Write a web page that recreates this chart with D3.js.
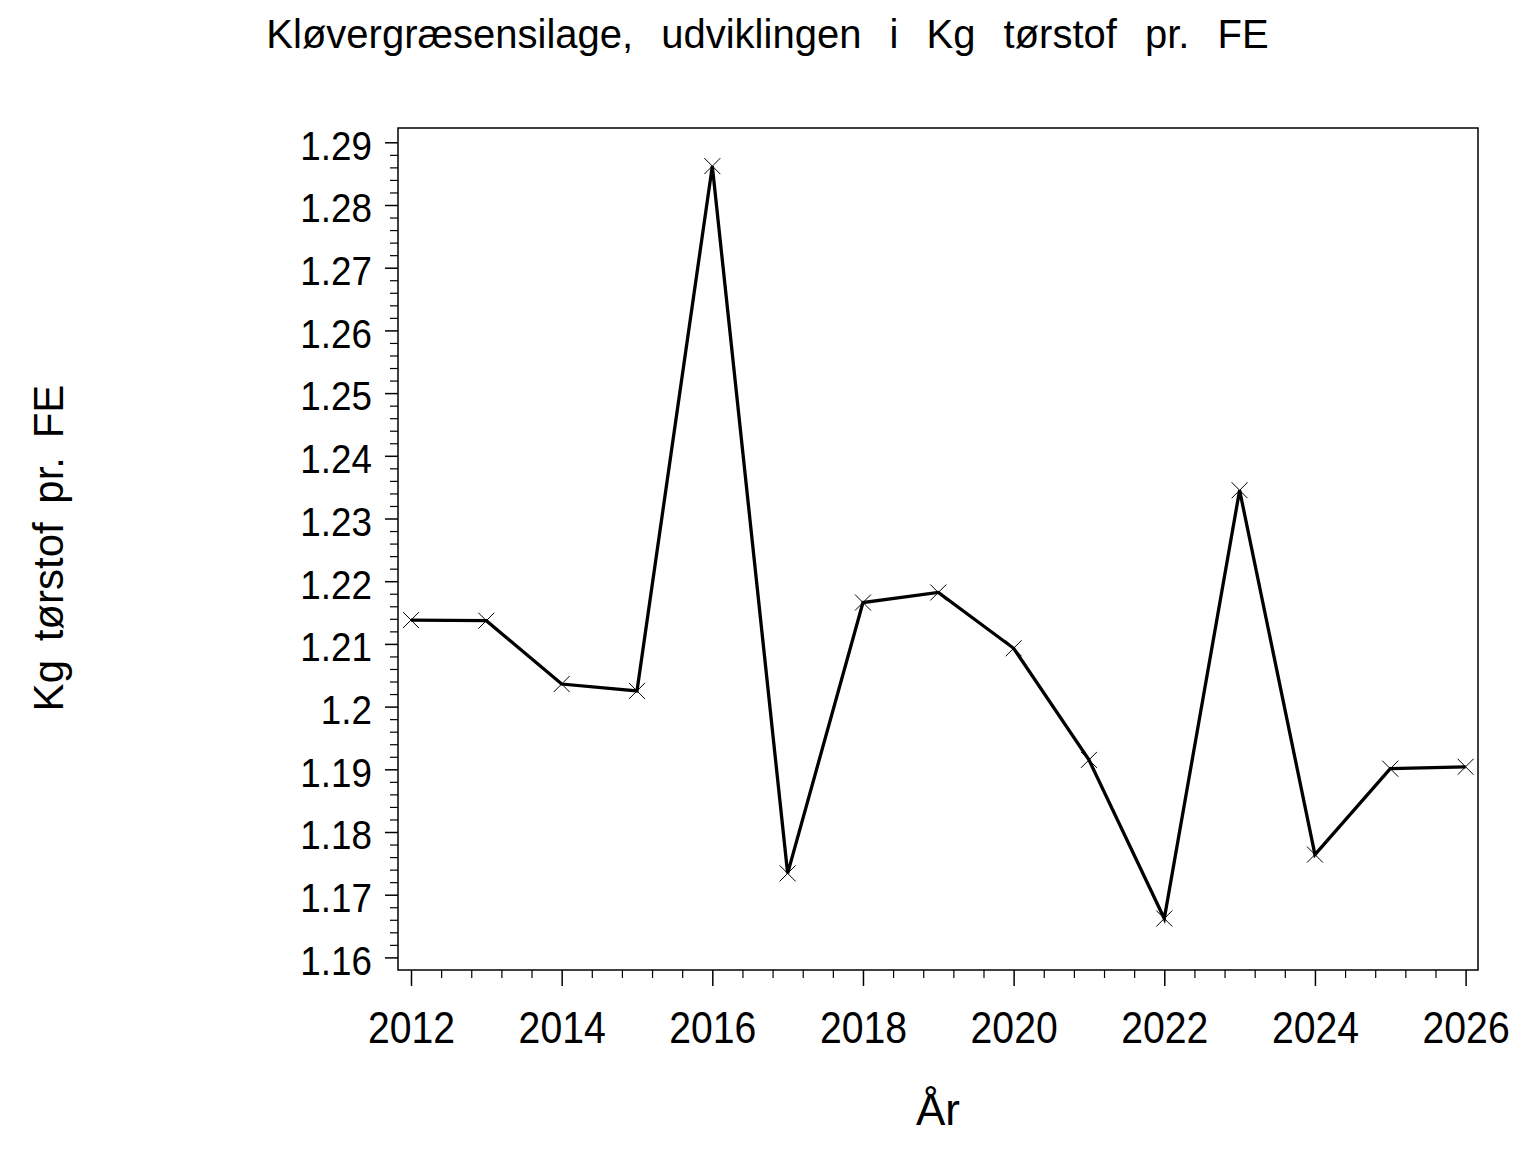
<!DOCTYPE html>
<html>
<head>
<meta charset="utf-8">
<script src="https://cdn.jsdelivr.net/npm/d3@7"></script>
<style>
  html, body { margin: 0; padding: 0; background: #fff; }
  svg { display: block; }
  text { font-family: "Liberation Sans", Arial, Helvetica, sans-serif; fill: #000; }
</style>
</head>
<body>
<svg id="chart" width="1536" height="1152"></svg>
<script>
// ---- data ----
const years = [2012, 2013, 2014, 2015, 2016, 2017, 2018, 2019, 2020, 2021, 2022, 2023, 2024, 2025, 2026];
const values = [1.2138, 1.2137, 1.2036, 1.2025, 1.2862, 1.1734, 1.2166, 1.2182, 1.2093, 1.1915, 1.1662, 1.2345, 1.1764, 1.1901, 1.1904];
const yTickValues = [1.16, 1.17, 1.18, 1.19, 1.20, 1.21, 1.22, 1.23, 1.24, 1.25, 1.26, 1.27, 1.28, 1.29];
const yTickLabels = ["1.16", "1.17", "1.18", "1.19", "1.2", "1.21", "1.22", "1.23", "1.24", "1.25", "1.26", "1.27", "1.28", "1.29"];
const xTickValues = [2012, 2014, 2016, 2018, 2020, 2022, 2024, 2026];
const xTickLabels = ["2012", "2014", "2016", "2018", "2020", "2022", "2024", "2026"];
const titleText = "Kløvergræsensilage, udviklingen i Kg tørstof pr. FE";
const xTitle = "År";
const yTitle = "Kg tørstof pr. FE";

// ---- layout ----
const frame = { left: 398, top: 128, right: 1478, bottom: 970 };
const svg = d3.select("#chart");

const x = d3.scaleLinear().domain([2012, 2026]).range([411, 1465.6]);
const y = d3.scaleLinear().domain([1.16, 1.29]).range([957.4, 142.3]);

// frame
svg.append("rect")
  .attr("x", frame.left).attr("y", frame.top)
  .attr("width", frame.right - frame.left).attr("height", frame.bottom - frame.top)
  .attr("fill", "none").attr("stroke", "#000").attr("stroke-width", 1.5);

// y minor ticks
const yMinor = d3.range(1.16, 1.2901, 0.002).filter(v => Math.abs(Math.round(v * 100) - v * 100) > 1e-6);
svg.append("g").attr("transform", `translate(${frame.left},0)`)
  .call(d3.axisLeft(y).tickValues(yMinor).tickSize(8).tickFormat(""))
  .call(g => g.select(".domain").remove())
  .call(g => g.selectAll("line").attr("stroke", "#000").attr("stroke-width", 1.2));

// y major ticks + labels
const yAxis = svg.append("g").attr("transform", `translate(${frame.left},0)`)
  .call(d3.axisLeft(y).tickValues(yTickValues).tickSize(13).tickPadding(13)
    .tickFormat((d, i) => yTickLabels[i]))
  .call(g => g.select(".domain").remove())
  .call(g => g.selectAll("line").attr("stroke", "#000").attr("stroke-width", 1.5));
yAxis.selectAll("text")
  .attr("font-size", 40)
  .attr("x", -28.3)
  .attr("dy", "0.42em")
  .attr("transform", "scale(0.92,1)")
  .style("font-family", '"Liberation Sans", Arial, sans-serif');

// x minor ticks
const xMinor = d3.range(2012, 2026.001, 0.4).filter(v => Math.abs(v - Math.round(v)) > 1e-6 || Math.round(v) % 2 !== 0);
svg.append("g").attr("transform", `translate(0,${frame.bottom})`)
  .call(d3.axisBottom(x).tickValues(xMinor).tickSize(8).tickFormat(""))
  .call(g => g.select(".domain").remove())
  .call(g => g.selectAll("line").attr("stroke", "#000").attr("stroke-width", 1.2));

// x major ticks + labels
const xAxis = svg.append("g").attr("transform", `translate(0,${frame.bottom})`)
  .call(d3.axisBottom(x).tickValues(xTickValues).tickSize(16)
    .tickFormat((d, i) => xTickLabels[i]))
  .call(g => g.select(".domain").remove())
  .call(g => g.selectAll("line").attr("stroke", "#000").attr("stroke-width", 1.5));
xAxis.selectAll("text")
  .attr("font-size", 44)
  .attr("y", 73.3)
  .attr("dy", 0)
  .attr("transform", "scale(0.89,1)")
  .style("font-family", '"Liberation Sans", Arial, sans-serif');

// line
const line = d3.line().x((d, i) => x(years[i])).y(d => y(d));
svg.append("path")
  .datum(values)
  .attr("d", line)
  .attr("fill", "none")
  .attr("stroke", "#000")
  .attr("stroke-width", 3.3)
  .attr("stroke-linejoin", "miter");

// X markers
const m = 8;
svg.append("g").selectAll("path.mk")
  .data(values)
  .join("path")
  .attr("class", "mk")
  .attr("d", (d, i) => {
    const cx = x(years[i]), cy = y(d);
    return `M${cx - m},${cy - m}L${cx + m},${cy + m}M${cx - m},${cy + m}L${cx + m},${cy - m}`;
  })
  .attr("stroke", "#000")
  .attr("stroke-width", 1)
  .attr("fill", "none");

// title
svg.append("text")
  .attr("x", 767.5).attr("y", 48)
  .attr("text-anchor", "middle")
  .attr("font-size", 40)
  .attr("word-spacing", "17px")
  .text(titleText);

// axis titles
svg.append("text")
  .attr("x", 938).attr("y", 1125)
  .attr("text-anchor", "middle")
  .attr("font-size", 44)
  .text(xTitle);

svg.append("text")
  .attr("transform", "translate(63,548) rotate(-90)")
  .attr("text-anchor", "middle")
  .attr("font-size", 42)
  .attr("word-spacing", "7px")
  .text(yTitle);
</script>
</body>
</html>
